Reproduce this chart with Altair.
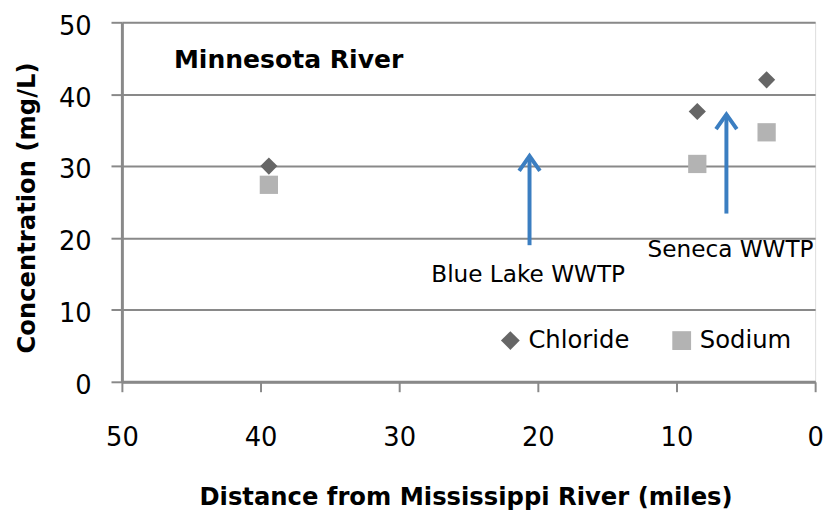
import altair as alt
import pandas as pd

# --- data ---
series = ["Chloride", "Sodium"]
site_distance = [39.4, 8.5, 3.5]          # miles from Mississippi River
chloride = [30.0, 37.6, 42.0]              # mg/L
sodium = [27.4, 30.3, 34.7]                # mg/L

arrow_labels = ["Blue Lake WWTP", "Seneca WWTP"]
arrow_x = [20.6, 6.4]
arrow_base = [19.0, 23.4]
arrow_tip = [31.4, 37.2]
label_x = [20.7, 6.1]
label_y = [14.9, 18.3]

chart_title = ["Minnesota River"]
title_x = [46.25]
title_y = [44.8]

x_ticks = [50, 40, 30, 20, 10, 0]
y_ticks = [0, 10, 20, 30, 40, 50]

FONT = "DejaVu Sans"
AX = "#898989"

pts = pd.DataFrame({
    "distance": site_distance * 2,
    "value": chloride + sodium,
    "series": ["Chloride"] * 3 + ["Sodium"] * 3,
    "sz": [300] * 3 + [340] * 3,
})
arrows = pd.DataFrame({"name": arrow_labels, "x": arrow_x, "y0": arrow_base, "y1": arrow_tip})
labels = pd.DataFrame({"name": arrow_labels, "x": label_x, "y": label_y})
ttl = pd.DataFrame({"t": chart_title, "x": title_x, "y": title_y})

xscale = alt.Scale(domain=[0, 50], reverse=True, nice=False)
yscale = alt.Scale(domain=[0, 50], nice=False)

xaxis = alt.Axis(values=x_ticks, grid=False, tickSize=10, tickColor=AX, tickWidth=2,
                 domainColor=AX, domainWidth=3, labelFontSize=26, labelFont=FONT,
                 labelColor="#000", labelPadding=33, labelFlush=False,
                 title="Distance from Mississippi River (miles)",
                 titleFont=FONT, titleFontSize=24.5, titleFontWeight="bold", titleColor="#000",
                 titleX=347, titleY=124, titleBaseline="alphabetic", titleAlign="center")
yaxis = alt.Axis(values=y_ticks, grid=True, gridColor=AX, gridWidth=2, tickSize=11,
                 tickColor=AX, tickWidth=2, domainColor=AX, domainWidth=3,
                 labelFontSize=26, labelFont=FONT, labelColor="#000", labelPadding=20,
                 labelOffset=4, labelFlush=False,
                 title="Concentration (mg/L)", titleFont=FONT, titleFontSize=24.5,
                 titleFontWeight="bold", titleColor="#000", titleAngle=-90,
                 titleX=-88, titleY=187, titleBaseline="alphabetic", titleAlign="center")

base_pts = alt.Chart(pts).mark_point(filled=True, opacity=1).encode(
    x=alt.X("distance:Q", scale=xscale, axis=xaxis),
    y=alt.Y("value:Q", scale=yscale, axis=yaxis),
    color=alt.Color("series:N", scale=alt.Scale(domain=series, range=["#666666", "#b3b3b3"]),
                    legend=alt.Legend(title=None, orient="none", direction="horizontal",
                                      legendX=380, legendY=309, labelFont=FONT,
                                      labelFontSize=24.5, labelColor="#000", symbolSize=360,
                                      labelOffset=6, columnPadding=40, padding=0,
                                      symbolStrokeWidth=0)),
    shape=alt.Shape("series:N", scale=alt.Scale(domain=series, range=["diamond", "square"])),
    size=alt.Size("sz:Q", scale=None, legend=None),
)

shafts = alt.Chart(arrows).mark_rule(color="#3b7ec1", strokeWidth=4).encode(
    x="x:Q", y="y0:Q", y2="y1:Q")
heads = alt.Chart(arrows).mark_point(shape="M-0.7,1L0,0L0.7,1", filled=False, color="#3b7ec1",
                                     strokeWidth=4, size=900, opacity=1,
                                     strokeJoin="miter").encode(x="x:Q", y="y1:Q")
lbls = alt.Chart(labels).mark_text(font=FONT, fontSize=23.4, color="#000", align="center",
                                   baseline="middle").encode(x="x:Q", y="y:Q", text="name:N")
title = alt.Chart(ttl).mark_text(font=FONT, fontSize=25.3, fontWeight="bold", color="#000",
                                 align="left", baseline="middle").encode(x="x:Q", y="y:Q", text="t:N")

chart = alt.layer(base_pts, shafts, heads, lbls, title).properties(
    width=700, height=363,
    autosize=alt.AutoSizeParams(type="none"),
    padding={"left": 115, "top": 12, "right": 15, "bottom": 127},
).configure_view(stroke=AX, strokeWidth=3).configure(background="white")

chart.save("out.html", embed_options={"renderer": "svg", "actions": False})
